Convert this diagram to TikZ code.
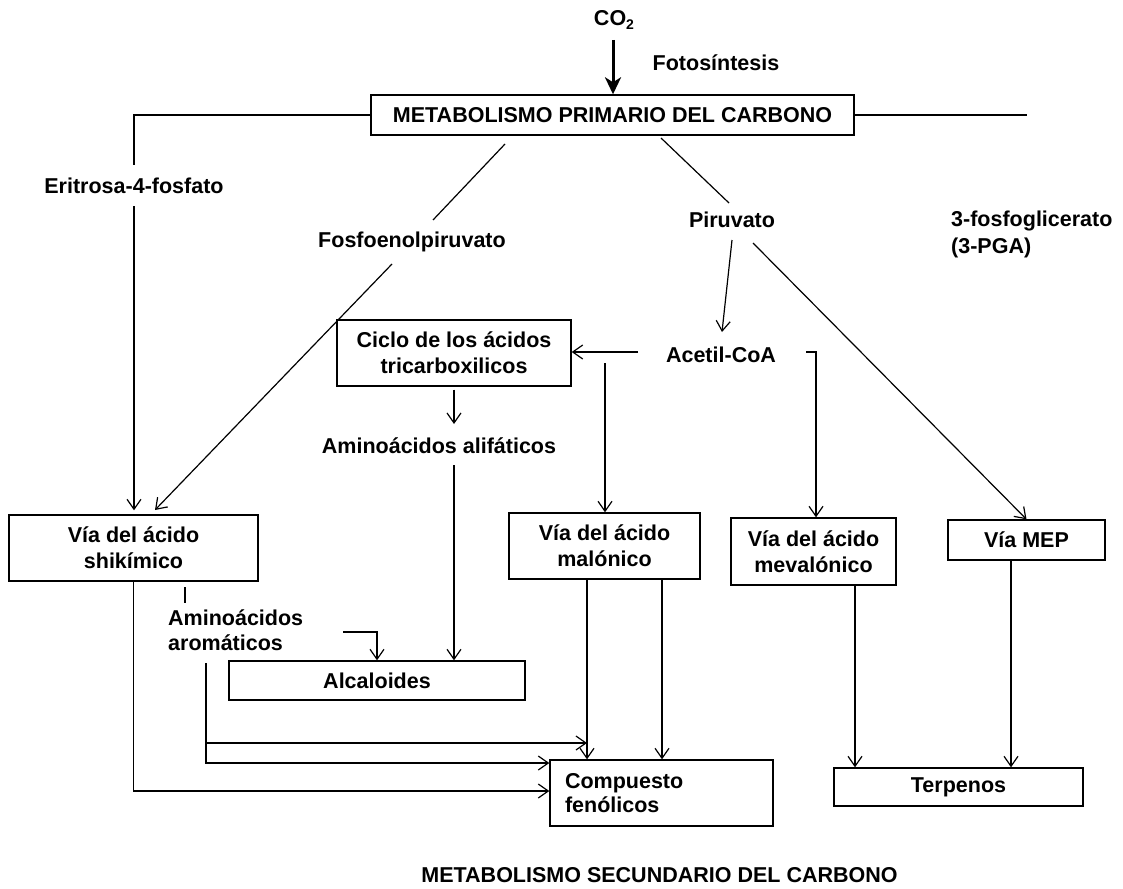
\documentclass[tikz,border=0pt]{standalone}
\usepackage{fontspec}
\setmainfont{Liberation Sans}
\usetikzlibrary{arrows.meta,calc}
\begin{document}
\begin{tikzpicture}[x=1pt,y=-1pt,
  font=\fontsize{21.5}{26}\selectfont\bfseries,
  box/.style={draw, line width=1.4pt, inner sep=0pt, align=center},
  txt/.style={inner sep=0pt, align=center},
  conn/.style={line width=1.2pt, -{Straight Barb[length=10pt,width=14pt]}},
  plain/.style={line width=1.2pt},
  bigarrow/.style={line width=3pt, -{Stealth[length=17pt,width=16pt,inset=5pt]}}]
\useasboundingbox (0,0) rectangle (1123,888);

% nodes
\node[txt] (co2) at (614,20) {CO\raisebox{-0.35ex}{\fontsize{14}{14}\selectfont 2}};
\node[txt] (foto) at (716,63) {Fotosíntesis};
\node[box, minimum width=483pt, minimum height=40pt] (prim) at (612.5,115) {METABOLISMO PRIMARIO DEL CARBONO};
\node[txt] (eri) at (134,186) {Eritrosa-4-fosfato};
\node[txt] (fosfo) at (412,242) {Fosfoenolpiruvato};
\node[txt] (piru) at (732,220) {Piruvato};
\node[txt, align=left, anchor=west, font=\fontsize{21.5}{27}\selectfont\bfseries] (pga) at (951,234) {3-fosfoglicerato\\(3-PGA)};
\node[txt] (acetil) at (721,355) {Acetil-CoA};
\node[box, minimum width=234pt, minimum height=66pt] (ciclo) at (454,353) {Ciclo de los ácidos\\tricarboxilicos};
\node[txt] (aliph) at (439,446) {Aminoácidos alifáticos};
\node[box, minimum width=249pt, minimum height=66pt] (shik) at (133.5,548) {Vía del ácido\\shikímico};
\node[box, minimum width=191pt, minimum height=66pt] (malo) at (604.5,546) {Vía del ácido\\malónico};
\node[box, minimum width=165pt, minimum height=67pt] (meva) at (813.5,551.5) {Vía del ácido\\mevalónico};
\node[box, minimum width=157pt, minimum height=40pt] (mep) at (1026.5,540) {Vía MEP};
\node[txt, align=left, anchor=west, font=\fontsize{21.5}{25}\selectfont\bfseries] (arom) at (168,630) {Aminoácidos\\aromáticos};
\node[box, minimum width=296pt, minimum height=39pt] (alca) at (377,680.5) {Alcaloides};
\node[box, align=left, text width=193pt, inner xsep=15pt, minimum height=66pt, font=\fontsize{21.5}{24}\selectfont\bfseries] (comp) at (661.5,793) {Compuesto\\fenólicos};
\node[box, minimum width=249pt, minimum height=38pt] (terp) at (958.5,787) {Terpenos};
\node[txt] (title) at (659.5,875) {METABOLISMO SECUNDARIO DEL CARBONO};

% coordinates for free ends
\coordinate (pgaend) at (1027,115);
\coordinate (fA) at (505,144);
\coordinate (fB) at (433,220);
\coordinate (fC) at (392,264);
\coordinate (fD) at (155,510);
\coordinate (pA) at (661,138);
\coordinate (pB) at (729,203);
\coordinate (pC) at (732,240);
\coordinate (pD) at (722,332);
\coordinate (pE) at (753,243);
\coordinate (aL) at (638,352);
\coordinate (mb) at (605,363);
\coordinate (aR) at (806,352);
\coordinate (aR2) at (816,352);
\coordinate (t1) at (185,587);
\coordinate (b1) at (343,632);
\coordinate (r0) at (206,663);
\coordinate (r1) at (206,763);
\coordinate (r2) at (206,743);
\coordinate (s1) at (133.5,791);
\coordinate (mL) at (587,579);
\coordinate (mR) at (662,579);
\coordinate (v1) at (855,585);
\coordinate (v2) at (1011,560);

% connectors
\draw[bigarrow] ($(co2.center)+(-1,20)$) -- ($(co2.center |- prim.north)+(-1,0)$);
\draw[plain] (prim.west) -| ($(eri.center)+(0,-21)$);
\draw[conn, shorten >=4pt] ($(eri.center)+(0,20)$) -- (eri.center |- shik.north);
\draw[plain] (prim.east) -- (pgaend);
\draw[plain] (fA) -- (fB);
\draw[conn] (fC) -- (fD);
\draw[plain] (pA) -- (pB);
\draw[conn] (pC) -- (pD);
\draw[conn] (pE) -- (mep.north);
\draw[conn] (aL) -- (aL -| ciclo.east);
\draw[conn] (mb) -- (mb |- malo.north);
\draw[conn] (aR) -- (aR2) -- (aR2 |- meva.north);
\draw[conn] ([yshift=-3pt]ciclo.south) -- ($(ciclo.south |- aliph.center)+(0,-22)$);
\draw[conn] ($(ciclo.south |- aliph.center)+(0,19)$) -- (ciclo.south |- alca.north);
\draw[plain] (t1) -- ++(0,16);
\draw[conn] (b1) -| (alca.north);
\draw[conn] (r0) -- (r1) -- (r1 -| comp.west);
\draw[conn] (r2) -- (r2 -| mL);
\draw[conn] (shik.south) -- (s1) -- (s1 -| comp.west);
\draw[conn] (mL) -- (mL |- comp.north);
\draw[conn] (mR) -- (mR |- comp.north);
\draw[conn] (v1) -- (v1 |- terp.north);
\draw[conn] (v2) -- (v2 |- terp.north);
\end{tikzpicture}
\end{document}
